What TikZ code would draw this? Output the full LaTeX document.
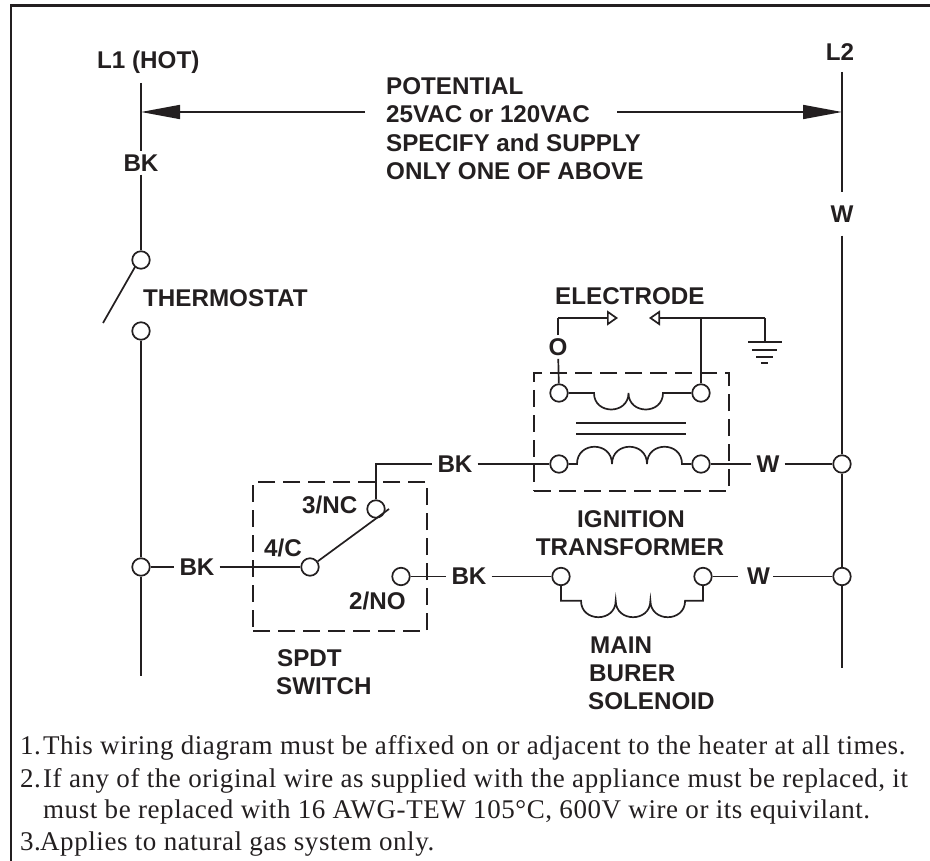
\documentclass[tikz,border=0pt]{standalone}
\usepackage{fontspec}
\setmainfont{Liberation Serif}
\setsansfont{Liberation Sans}
\newfontfamily\notefont[LetterSpace=2.1]{Liberation Serif}
\usetikzlibrary{arrows.meta}
\definecolor{ink}{HTML}{231F20}
\tikzset{
  wire/.style={draw=ink,line width=1.7pt},
  frameline/.style={draw=ink,line width=2.6pt},
  term/.style={circle,draw=ink,line width=1.7pt,fill=white,minimum size=17.5pt,inner sep=0pt},
  wlab/.style={font=\sffamily\bfseries\fontsize{24.2}{28}\selectfont,text=ink,inner xsep=5pt,inner ysep=3pt},
  lab/.style={font=\sffamily\bfseries\fontsize{24.2}{28}\selectfont,text=ink,inner sep=0pt,anchor=base west},
  labc/.style={font=\sffamily\bfseries\fontsize{24.2}{28}\selectfont,text=ink,inner sep=0pt,anchor=base},
  note/.style={font=\notefont\fontsize{27}{32}\selectfont,text=ink,inner sep=0pt,anchor=base west},
  dashbox/.style={draw=ink,line width=1.7pt,dash pattern=on 17pt off 8pt,inner sep=0pt},
  solidtip/.style={-{Triangle[length=39pt,width=14pt,fill=ink]}},
  opentip/.style={-{Triangle[open,length=11pt,width=15pt]}}
}
\begin{document}
\begin{tikzpicture}[x=1pt,y=-1pt]
\useasboundingbox (0,0) rectangle (930,861);
% frame
\coordinate (fbl) at (11,861);
\coordinate (ftl) at (11,5.5);
\coordinate (ftr) at (930,5.5);
\draw[frameline] (fbl) -- (ftl) -- (ftr);
% dashed boxes
\node[dashbox,minimum width=174pt,minimum height=149pt] (swbox) at (340,556.5) {};
\node[dashbox,minimum width=195pt,minimum height=118pt] (trbox) at (631.5,432) {};
% L1 rail
\coordinate (l1top) at (141,83);
\coordinate (l1bot) at (141,676);
\coordinate (l1arr) at (141,112);
\node[wlab] (bkv) at (141,163) {BK};
\node[term] (th1) at (141,260) {};
\node[term] (th2) at (141,331) {};
\node[term] (jl) at (141,567) {};
\draw[wire] (l1top) -- (bkv);
\draw[wire] (bkv) -- (th1);
\draw[wire] (th2) -- (jl);
\draw[wire] (jl) -- (l1bot);
\coordinate (bladeA) at (135,267);
\coordinate (bladeB) at (103,323);
\draw[wire] (bladeA) -- (bladeB);
% L2 rail
\coordinate (l2top) at (842,72);
\coordinate (l2bot) at (842,668);
\coordinate (l2arr) at (842,112);
\node[wlab,inner ysep=13pt] (wv) at (842,214) {W};
\node[term] (jr1) at (842,464) {};
\node[term] (jr2) at (842,576.5) {};
\draw[wire] (l2top) -- (wv);
\draw[wire] (wv) -- (jr1);
\draw[wire] (jr1) -- (jr2);
\draw[wire] (jr2) -- (l2bot);
% potential arrows
\coordinate (potL) at (365,112);
\coordinate (potR) at (617,112);
\draw[wire,solidtip] (potL) -- (l1arr);
\draw[wire,solidtip] (potR) -- (l2arr);
% switch
\node[term] (sc) at (310,567) {};
\node[term] (snc) at (376,509) {};
\node[term] (sno) at (401,576.5) {};
\coordinate (swtip) at (389,509);
\draw[wire] (sc) -- (swtip);
\node[wlab] (bk1) at (197,567) {BK};
\draw[wire] (jl) -- (bk1);
\draw[wire] (bk1) -- (sc);
\node[wlab] (bk2) at (455,464) {BK};
\node[wlab] (bk3) at (469,576.5) {BK};
\draw[wire] (snc) |- (bk2);
\draw[wire] (sno) -- (bk3);
% transformer
\node[term] (p1) at (559,464) {};
\node[term] (p2) at (701,464) {};
\node[term] (s1) at (559,393) {};
\node[term] (s2) at (701,393) {};
\draw[wire] (bk2) -- (p1);
\draw[wire] (p1) -- (577,464) .. controls +(0,-23) and +(0,-23) .. ++(35,0) .. controls +(0,-23) and +(0,-23) .. ++(35,0) .. controls +(0,-23) and +(0,-23) .. ++(35,0) -- (p2);
\draw[wire] (s1) -- (594,393) .. controls +(0,22) and +(0,22) .. ++(34.5,0) .. controls +(0,22) and +(0,22) .. ++(34.5,0) -- (s2);
\coordinate (c1a) at (576,423);
\coordinate (c1b) at (686,423);
\coordinate (c2a) at (576,434);
\coordinate (c2b) at (686,434);
\draw[wire] (c1a) -- (c1b);
\draw[wire] (c2a) -- (c2b);
\node[wlab] (w1) at (768,464) {W};
\draw[wire] (p2) -- (w1);
\draw[wire] (w1) -- (jr1);
% solenoid
\node[term] (m1) at (561,576.5) {};
\node[term] (m2) at (703,576.5) {};
\draw[wire] (bk3) -- (m1);
\draw[wire] (m1) |- (581,600.7) .. controls +(0,22) and +(0,22) .. ++(34.7,0) .. controls +(0,22) and +(0,22) .. ++(34.7,0) .. controls +(0,22) and +(0,22) .. ++(34.7,0) -| (m2);
\node[wlab,inner xsep=3pt] (w2) at (758.5,576.5) {W};
\coordinate (w2L) at (738,576.5);
\draw[wire] (m2) -- (w2L);
\draw[wire] (w2) -- (jr2);
% electrode
\node[wlab] (olab) at (558,347) {O};
\coordinate (elTurn) at (558,318);
\coordinate (elTipL) at (618,318);
\coordinate (elTipR) at (649,318);
\coordinate (elJ) at (701,318);
\coordinate (gndT) at (765,318);
\coordinate (gnd0) at (765,342);
\draw[wire] (s1) -- (olab);
\draw[wire] (olab) -- (elTurn);
\draw[wire,opentip] (elTurn) -- (elTipL);
\draw[wire,opentip] (gndT) -- (elTipR);
\draw[wire] (gndT) -- (gnd0);
\draw[wire] (elJ) -- (s2);
\coordinate (g1a) at (748,342); \coordinate (g1b) at (782,342);
\coordinate (g2a) at (752,350); \coordinate (g2b) at (777,350);
\coordinate (g3a) at (756,357); \coordinate (g3b) at (773,357);
\coordinate (g4a) at (761,363); \coordinate (g4b) at (768,363);
\draw[wire] (g1a) -- (g1b);
\draw[wire] (g2a) -- (g2b);
\draw[wire] (g3a) -- (g3b);
\draw[wire] (g4a) -- (g4b);
% text
\node[lab] (tL1) at (97,68.5) {L1 (HOT)};
\node[labc] (tL2) at (840,60.5) {L2};
\node[lab] (tp1) at (386,95) {POTENTIAL};
\node[lab] (tp2) at (386,123) {25VAC or 120VAC};
\node[lab] (tp3) at (386,152) {SPECIFY and SUPPLY};
\node[lab] (tp4) at (386,180) {ONLY ONE OF ABOVE};
\node[lab] (tth) at (143,306.5) {THERMOSTAT};
\node[lab] (tel) at (555,304.5) {ELECTRODE};
\node[lab] (t3nc) at (302,513.5) {3/NC};
\node[lab] (t4c) at (264,556.5) {4/C};
\node[lab] (t2no) at (349,609.5) {2/NO};
\node[lab] (tsp) at (277,666.5) {SPDT};
\node[lab] (tsw) at (276,694.5) {SWITCH};
\node[labc] (tig) at (631,527.5) {IGNITION};
\node[labc] (ttr) at (630,555.5) {TRANSFORMER};
\node[lab] (tma) at (590,653.5) {MAIN};
\node[lab] (tbu) at (589,681.5) {BURER};
\node[lab] (tso) at (588,709.5) {SOLENOID};
% notes
\node[note] (n1) at (20,754) {\makebox[23pt][l]{1.}This wiring diagram must be affixed on or adjacent to the heater at all times.};
\node[note] (n2) at (20,787) {\makebox[23pt][l]{2.}If any of the original wire as supplied with the appliance must be replaced, it};
\node[note] (n3) at (43,818) {must be replaced with 16 AWG-TEW 105°C, 600V wire or its equivilant.};
\node[note] (n4) at (20,850) {\makebox[20pt][l]{3.}Applies to natural gas system only.};
\end{tikzpicture}
\end{document}
